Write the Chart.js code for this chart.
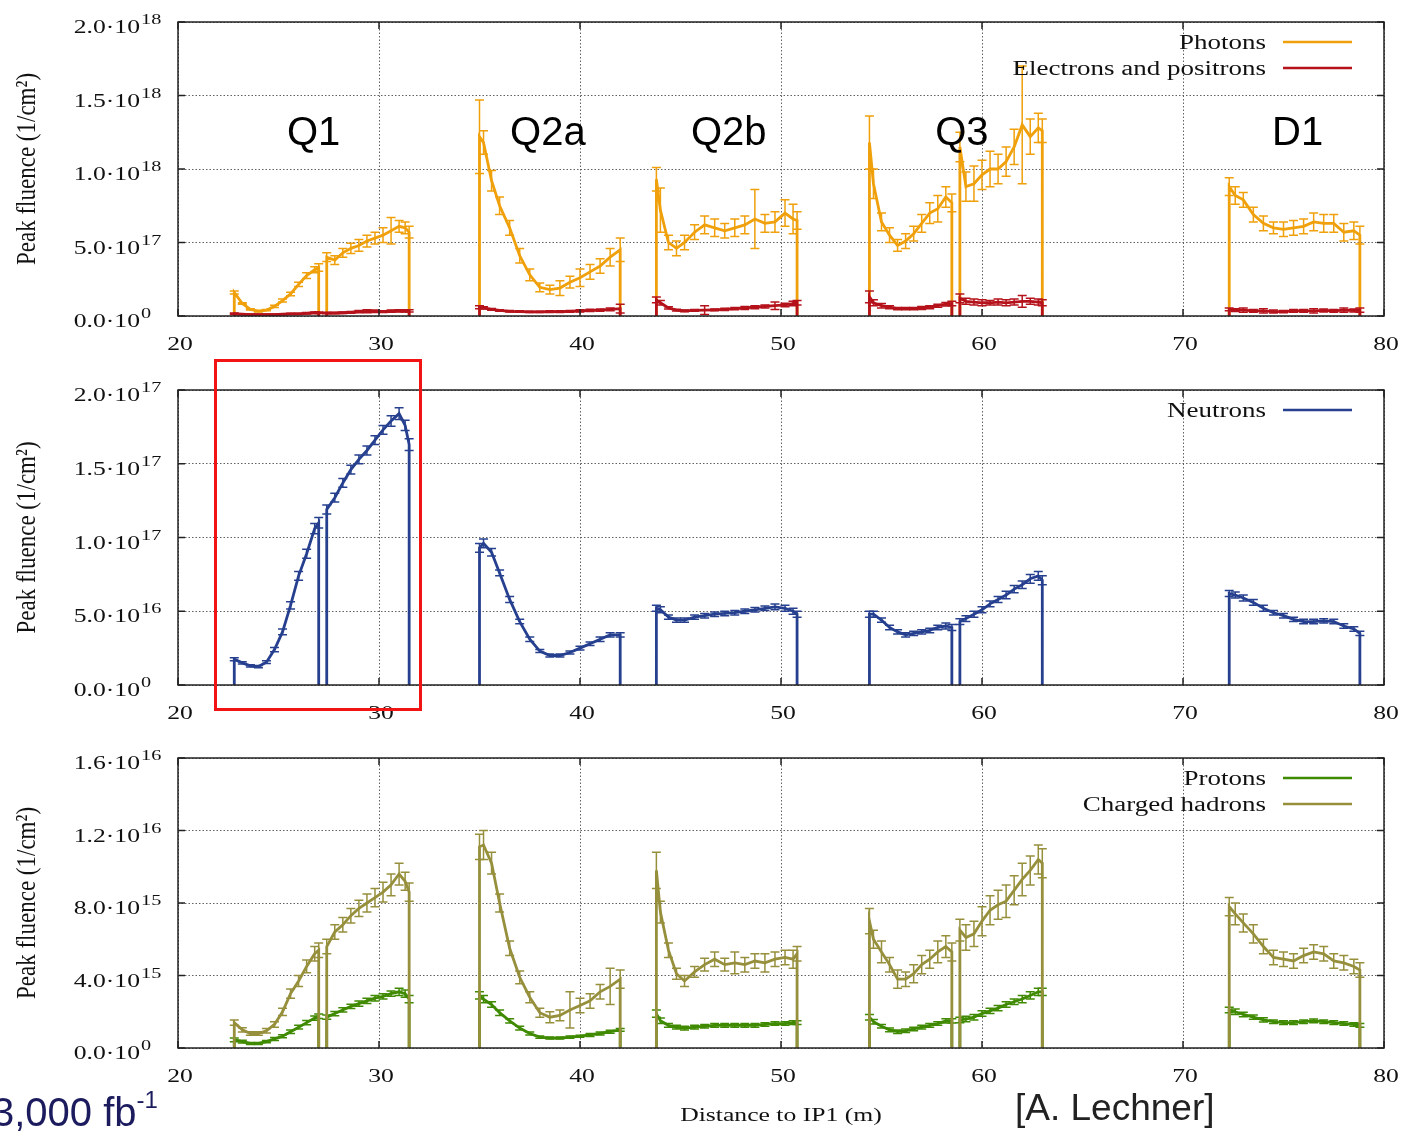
<!DOCTYPE html>
<html>
<head>
<meta charset="utf-8">
<script src="https://cdn.jsdelivr.net/npm/chart.js@4.4.0/dist/chart.umd.min.js"></script>
<style>
  body { margin: 0; background: #fff; }
  #wrap { position: relative; width: 1408px; height: 1131px; overflow: hidden; background: #fff; }
  #wrap canvas { position: absolute; left: 0; }
  .note { position: absolute; font-family: "Liberation Sans", Arial, sans-serif; white-space: nowrap; line-height: 1; }
  .note sup { font-size: 0.6em; position: relative; top: -0.75em; vertical-align: baseline; }
  #box { position: absolute; left: 214px; top: 359px; width: 208px; height: 352px; border: 3px solid #f21414; box-sizing: border-box; }
</style>
</head>
<body>
<div id="wrap">
  <canvas id="c1" width="1408" height="360" style="top:0"></canvas>
  <canvas id="c2" width="1408" height="370" style="top:360px"></canvas>
  <canvas id="c3" width="1408" height="401" style="top:730px"></canvas>
  <div id="box"></div>
  <div class="note" style="left:-8px; top:1092px; font-size:40px; color:#1b1b5e">3,000 fb<sup>-1</sup></div>
  <div class="note" style="left:1015px; top:1089px; font-size:37px; color:#222">[A. Lechner]</div>
</div>
<script>
// magnet segments along the beam line (m)
const segmentX = [
  [22.8, 23.2, 23.6, 24.0, 24.4, 24.8, 25.2, 25.6, 26.0, 26.4, 26.8, 27.0],
  [27.4, 27.8, 28.2, 28.6, 29.0, 29.4, 29.8, 30.2, 30.6, 31.0, 31.3, 31.5],
  [35.0, 35.2, 35.6, 36.0, 36.5, 37.0, 37.5, 38.0, 38.5, 39.0, 39.5, 40.0, 40.5, 41.0, 41.5, 42.0],
  [43.8, 44.0, 44.4, 44.8, 45.2, 45.7, 46.2, 46.7, 47.2, 47.7, 48.2, 48.7, 49.2, 49.7, 50.2, 50.6, 50.8],
  [54.4, 54.6, 55.0, 55.4, 55.8, 56.2, 56.6, 57.0, 57.4, 57.8, 58.2, 58.5],
  [58.9, 59.2, 59.6, 60.0, 60.4, 60.8, 61.2, 61.6, 62.0, 62.4, 62.8, 63.0],
  [72.3, 72.6, 73.0, 73.5, 74.0, 74.5, 75.0, 75.5, 76.0, 76.5, 77.0, 77.5, 78.0, 78.5, 78.8]
];

// photons, units of 1e17 /cm2
const photons = [
  [1.6, 0.85, 0.45, 0.33, 0.4, 0.65, 1.05, 1.5, 2.15, 2.75, 3.15, 3.3],
  [4.0, 3.8, 4.3, 4.6, 4.8, 5.1, 5.3, 5.5, 5.8, 6.1, 6.0, 5.7],
  [12.2, 11.8, 9.2, 7.5, 6.0, 4.1, 2.8, 1.95, 1.8, 1.9, 2.3, 2.6, 3.0, 3.4, 4.0, 4.5],
  [9.3, 7.2, 5.0, 4.6, 5.0, 5.7, 6.2, 6.0, 5.8, 6.0, 6.2, 6.6, 6.3, 6.4, 7.0, 6.6, 6.5],
  [11.8, 9.0, 6.4, 5.5, 4.8, 5.1, 5.6, 6.3, 7.0, 7.3, 8.1, 7.7],
  [11.5, 8.8, 9.0, 9.6, 10.0, 10.0, 10.5, 11.5, 13.0, 12.2, 12.8, 12.6],
  [8.8, 8.2, 7.9, 6.9, 6.3, 6.0, 5.9, 6.0, 6.1, 6.4, 6.3, 6.3, 5.7, 5.8, 5.5]
];
const photonsErr = [
  [0.1, 0.05, 0.05, 0.05, 0.05, 0.08, 0.1, 0.12, 0.15, 0.2, 0.2, 0.25],
  [0.3, 0.3, 0.3, 0.35, 0.4, 0.4, 0.4, 0.5, 0.9, 0.4, 0.4, 0.4],
  [2.5, 0.8, 0.7, 0.6, 0.5, 0.5, 0.4, 0.3, 0.3, 0.5, 0.4, 0.6, 0.5, 0.5, 0.6, 0.8],
  [0.8, 1.5, 0.5, 0.5, 0.5, 0.5, 0.6, 0.6, 0.5, 0.6, 0.6, 2.0, 0.6, 0.7, 0.9, 1.0, 0.6],
  [1.8, 1.0, 0.6, 0.5, 0.4, 0.5, 0.5, 0.6, 0.7, 0.9, 0.7, 0.6],
  [1.0, 1.0, 1.2, 1.0, 1.2, 1.0, 1.0, 1.2, 4.0, 1.2, 1.0, 0.8],
  [0.6, 0.6, 0.5, 0.5, 0.5, 0.4, 0.5, 0.5, 0.5, 0.6, 0.6, 0.6, 0.6, 0.6, 0.6]
];

// electrons and positrons, 1e17 /cm2
const electrons = [
  [0.15, 0.12, 0.1, 0.1, 0.1, 0.1, 0.12, 0.14, 0.15, 0.18, 0.22, 0.22],
  [0.2, 0.2, 0.22, 0.25, 0.3, 0.32, 0.32, 0.3, 0.33, 0.35, 0.35, 0.35],
  [0.6, 0.55, 0.45, 0.38, 0.32, 0.3, 0.28, 0.28, 0.3, 0.3, 0.32, 0.35, 0.38, 0.4, 0.45, 0.5],
  [1.1, 0.9, 0.55, 0.4, 0.35, 0.38, 0.4, 0.42, 0.45, 0.5, 0.55, 0.6, 0.65, 0.7, 0.75, 0.85, 0.9],
  [1.3, 0.9, 0.7, 0.6, 0.5, 0.5, 0.5, 0.55, 0.6, 0.7, 0.8, 0.85],
  [1.2, 1.0, 0.95, 0.9, 0.9, 0.95, 0.9, 0.95, 1.0, 1.0, 0.95, 0.9],
  [0.45, 0.4, 0.4, 0.35, 0.35, 0.3, 0.3, 0.35, 0.35, 0.35, 0.38, 0.35, 0.4, 0.38, 0.4]
];
const electronsErr = [
  [0.05, 0.03, 0.03, 0.03, 0.03, 0.03, 0.03, 0.04, 0.04, 0.05, 0.05, 0.05],
  [0.05, 0.05, 0.05, 0.06, 0.08, 0.1, 0.08, 0.06, 0.08, 0.08, 0.08, 0.08],
  [0.1, 0.08, 0.06, 0.05, 0.05, 0.05, 0.05, 0.05, 0.06, 0.06, 0.06, 0.08, 0.08, 0.08, 0.1, 0.3],
  [0.2, 0.15, 0.08, 0.06, 0.06, 0.06, 0.3, 0.06, 0.08, 0.08, 0.1, 0.1, 0.1, 0.25, 0.12, 0.15, 0.15],
  [0.4, 0.2, 0.15, 0.1, 0.08, 0.08, 0.08, 0.1, 0.1, 0.1, 0.12, 0.15],
  [0.3, 0.2, 0.2, 0.2, 0.15, 0.2, 0.2, 0.2, 0.4, 0.2, 0.2, 0.2],
  [0.1, 0.1, 0.15, 0.1, 0.15, 0.1, 0.08, 0.1, 0.1, 0.15, 0.1, 0.1, 0.15, 0.1, 0.15]
];

// neutrons, 1e16 /cm2
const neutrons = [
  [1.75, 1.5, 1.3, 1.25, 1.55, 2.4, 3.6, 5.4, 7.4, 8.9, 10.6, 11.0],
  [11.9, 12.7, 13.7, 14.6, 15.3, 15.9, 16.6, 17.3, 17.9, 18.4, 17.6, 16.3],
  [9.3, 9.6, 9.0, 7.6, 5.8, 4.3, 3.1, 2.3, 2.0, 2.0, 2.2, 2.5, 2.8, 3.1, 3.4, 3.4],
  [5.2, 5.1, 4.6, 4.4, 4.4, 4.6, 4.7, 4.8, 4.85, 4.9, 5.0, 5.1, 5.2, 5.3, 5.2, 5.0, 4.8],
  [4.8, 4.8, 4.4, 3.9, 3.6, 3.4, 3.5, 3.6, 3.7, 3.9, 4.0, 3.9],
  [4.3, 4.5, 4.8, 5.1, 5.5, 5.8, 6.1, 6.5, 6.8, 7.2, 7.4, 7.1],
  [6.2, 6.1, 5.9, 5.6, 5.2, 4.9, 4.7, 4.45, 4.3, 4.3, 4.35, 4.3, 4.0, 3.8, 3.5]
];
const neutronsErr = [
  [0.1, 0.08, 0.08, 0.08, 0.1, 0.15, 0.2, 0.25, 0.3, 0.3, 0.35, 0.35],
  [0.3, 0.3, 0.3, 0.3, 0.3, 0.3, 0.3, 0.3, 0.35, 0.4, 0.35, 0.4],
  [0.3, 0.3, 0.25, 0.2, 0.2, 0.15, 0.15, 0.1, 0.1, 0.1, 0.1, 0.12, 0.12, 0.15, 0.15, 0.15],
  [0.2, 0.2, 0.15, 0.15, 0.15, 0.15, 0.15, 0.15, 0.15, 0.15, 0.15, 0.15, 0.15, 0.2, 0.2, 0.2, 0.2],
  [0.2, 0.2, 0.15, 0.15, 0.15, 0.15, 0.15, 0.15, 0.15, 0.15, 0.2, 0.2],
  [0.2, 0.2, 0.2, 0.2, 0.2, 0.2, 0.25, 0.25, 0.25, 0.3, 0.3, 0.3],
  [0.2, 0.2, 0.2, 0.2, 0.2, 0.15, 0.15, 0.15, 0.15, 0.15, 0.15, 0.15, 0.15, 0.15, 0.15]
];

// protons, 1e15 /cm2
const protons = [
  [0.45, 0.35, 0.25, 0.25, 0.35, 0.5, 0.65, 0.9, 1.15, 1.4, 1.65, 1.75],
  [1.7, 1.9, 2.1, 2.3, 2.45, 2.6, 2.75, 2.85, 3.0, 3.1, 3.0, 2.7],
  [2.9, 2.7, 2.4, 1.95, 1.5, 1.1, 0.8, 0.6, 0.55, 0.55, 0.6, 0.65, 0.72, 0.8, 0.9, 1.0],
  [1.9, 1.5, 1.25, 1.15, 1.1, 1.15, 1.2, 1.25, 1.25, 1.25, 1.25, 1.25, 1.3, 1.35, 1.35, 1.4, 1.4],
  [1.7, 1.45, 1.2, 1.0, 0.9, 0.95, 1.05, 1.15, 1.25, 1.35, 1.5, 1.5],
  [1.55, 1.6, 1.7, 1.9, 2.05, 2.2, 2.4, 2.55, 2.7, 2.9, 3.1, 3.1],
  [2.1, 2.0, 1.85, 1.7, 1.55, 1.45, 1.4, 1.4, 1.45, 1.5, 1.45, 1.4, 1.35, 1.3, 1.25]
];
const protonsErr = [
  [0.1, 0.08, 0.06, 0.06, 0.06, 0.08, 0.08, 0.1, 0.1, 0.12, 0.12, 0.12],
  [0.12, 0.12, 0.12, 0.12, 0.15, 0.15, 0.15, 0.15, 0.15, 0.2, 0.2, 0.2],
  [0.2, 0.2, 0.15, 0.15, 0.12, 0.1, 0.08, 0.06, 0.06, 0.06, 0.06, 0.06, 0.08, 0.08, 0.08, 0.08],
  [0.2, 0.15, 0.1, 0.1, 0.1, 0.1, 0.1, 0.1, 0.1, 0.1, 0.1, 0.1, 0.1, 0.1, 0.1, 0.1, 0.1],
  [0.15, 0.12, 0.1, 0.1, 0.1, 0.1, 0.1, 0.1, 0.1, 0.1, 0.12, 0.12],
  [0.15, 0.15, 0.15, 0.15, 0.15, 0.15, 0.15, 0.15, 0.2, 0.2, 0.2, 0.2],
  [0.15, 0.15, 0.12, 0.12, 0.12, 0.1, 0.1, 0.1, 0.1, 0.1, 0.1, 0.1, 0.1, 0.1, 0.1]
];

// charged hadrons, 1e15 /cm2
const hadrons = [
  [1.4, 1.0, 0.8, 0.8, 0.95, 1.3, 2.0, 3.0, 3.7, 4.5, 5.2, 5.4],
  [5.6, 6.4, 6.8, 7.3, 7.7, 8.0, 8.3, 8.6, 9.0, 9.6, 9.2, 8.6],
  [11.1, 11.2, 10.2, 8.0, 5.5, 3.9, 2.8, 1.95, 1.7, 1.8, 2.1, 2.35, 2.6, 3.1, 3.4, 3.8],
  [9.8, 7.5, 5.4, 4.1, 3.7, 4.2, 4.6, 4.9, 4.6, 4.7, 4.6, 4.8, 4.7, 4.9, 5.0, 4.9, 5.2],
  [7.0, 6.0, 5.3, 4.6, 3.8, 3.8, 4.1, 4.6, 4.9, 5.3, 5.6, 5.3],
  [6.5, 6.1, 6.3, 7.0, 7.6, 7.9, 8.1, 8.7, 9.3, 9.8, 10.4, 10.2],
  [7.8, 7.4, 6.9, 6.3, 5.6, 5.0, 4.9, 4.8, 5.1, 5.3, 5.2, 4.8, 4.7, 4.5, 4.3]
];
const hadronsErr = [
  [0.15, 0.12, 0.1, 0.1, 0.12, 0.15, 0.2, 0.25, 0.3, 0.35, 0.4, 0.4],
  [0.4, 0.4, 0.4, 0.4, 0.45, 0.5, 0.5, 0.55, 0.6, 0.6, 0.5, 0.5],
  [0.7, 0.8, 0.6, 0.5, 0.4, 0.35, 0.3, 0.25, 0.3, 0.3, 1.0, 0.4, 0.4, 0.4, 1.0, 0.5],
  [1.0, 0.6, 0.4, 0.3, 0.3, 0.3, 0.35, 0.4, 0.35, 0.6, 0.4, 0.4, 0.5, 0.4, 0.4, 0.5, 0.4],
  [0.7, 0.5, 0.6, 0.4, 0.5, 0.4, 0.5, 0.5, 0.5, 0.6, 0.6, 0.5],
  [0.6, 0.7, 0.7, 0.8, 0.8, 0.8, 0.9, 0.8, 0.9, 0.8, 0.8, 0.8],
  [0.5, 0.6, 0.5, 0.5, 0.4, 0.4, 0.4, 0.4, 0.4, 0.4, 0.4, 0.4, 0.4, 0.4, 0.4]
];

const xTicks = [20, 30, 40, 50, 60, 70, 80];
const p1TickLabels = [['0.0', '0'], ['5.0', '17'], ['1.0', '18'], ['1.5', '18'], ['2.0', '18']];
const p2TickLabels = [['0.0', '0'], ['5.0', '16'], ['1.0', '17'], ['1.5', '17'], ['2.0', '17']];
const p3TickLabels = [['0.0', '0'], ['4.0', '15'], ['8.0', '15'], ['1.2', '16'], ['1.6', '16']];

const magnetNames = ['Q1', 'Q2a', 'Q2b', 'Q3', 'D1'];
const magnetCenters = [26.75, 38.4, 47.4, 59.0, 75.7];
const magnetLabelY = 12.4;

const SERIF = '"Liberation Serif", "Times New Roman", serif';
const SX = 1.35; // the gnuplot text is stretched sideways in the original

function buildSeries(values, errors) {
  const pts = [], errs = [];
  segmentX.forEach((xs, s) => {
    pts.push({ x: xs[0], y: 0 }); errs.push(null);
    xs.forEach((x, i) => { pts.push({ x: x, y: values[s][i] }); errs.push(errors[s][i]); });
    pts.push({ x: xs[xs.length - 1], y: 0 }); errs.push(null);
    pts.push({ x: xs[xs.length - 1], y: null }); errs.push(null);
  });
  return { pts, errs };
}

function dataset(label, color, values, errors, order) {
  const s = buildSeries(values, errors);
  return { label, data: s.pts, errors: s.errs, borderColor: color, backgroundColor: color,
           borderWidth: 2.8, pointRadius: 0, tension: 0, order, spanGaps: false };
}

function stretchedText(ctx, text, x, y, font, align, sx) {
  ctx.save();
  ctx.font = font;
  ctx.textAlign = align;
  ctx.textBaseline = 'alphabetic';
  ctx.translate(x, y);
  ctx.scale(sx, 1);
  ctx.fillText(text, 0, 0);
  ctx.restore();
}

function makeDeco(cfg) {
  return {
    id: 'deco',
    afterDatasetDraw(chart, args) {
      const ds = chart.data.datasets[args.index];
      const { ctx, scales: { x, y } } = chart;
      ctx.save();
      ctx.strokeStyle = ds.borderColor;
      ctx.lineWidth = 1.5;
      ds.data.forEach((p, i) => {
        const e = ds.errors[i];
        if (e == null || p.y == null) return;
        const px = x.getPixelForValue(p.x);
        const y1 = y.getPixelForValue(p.y - e), y2 = y.getPixelForValue(p.y + e);
        ctx.beginPath();
        ctx.moveTo(px, y1); ctx.lineTo(px, y2);
        ctx.moveTo(px - 4.5, y1); ctx.lineTo(px + 4.5, y1);
        ctx.moveTo(px - 4.5, y2); ctx.lineTo(px + 4.5, y2);
        ctx.stroke();
      });
      ctx.restore();
    },
    afterDraw(chart) {
      const { ctx, chartArea: a, scales: { x, y } } = chart;
      ctx.save();
      // frame and inward ticks
      ctx.strokeStyle = '#222';
      ctx.lineWidth = 1.5;
      ctx.strokeRect(a.left, a.top, a.right - a.left, a.bottom - a.top);
      ctx.beginPath();
      xTicks.forEach(v => {
        const px = x.getPixelForValue(v);
        ctx.moveTo(px, a.bottom); ctx.lineTo(px, a.bottom - 7);
        ctx.moveTo(px, a.top); ctx.lineTo(px, a.top + 7);
      });
      y.ticks.forEach(t => {
        const py = y.getPixelForValue(t.value);
        ctx.moveTo(a.left, py); ctx.lineTo(a.left + 7, py);
        ctx.moveTo(a.right, py); ctx.lineTo(a.right - 7, py);
      });
      ctx.stroke();

      ctx.fillStyle = '#111';
      // y tick labels with superscript exponents
      y.ticks.forEach((t, i) => {
        const py = y.getPixelForValue(t.value);
        const lab = cfg.yLabels[i];
        stretchedText(ctx, lab[0] + '\u00b710', 140, py + 11, '19px ' + SERIF, 'right', SX);
        stretchedText(ctx, lab[1], 141, py + 2, '15px ' + SERIF, 'left', SX);
      });
      // x tick labels
      xTicks.forEach(v => {
        stretchedText(ctx, String(v), x.getPixelForValue(v) + 2, a.bottom + 34, '19px ' + SERIF, 'center', SX);
      });
      // y axis title
      ctx.save();
      ctx.translate(28, (a.top + a.bottom) / 2);
      ctx.rotate(-Math.PI / 2);
      ctx.scale(1, 1.2);
      ctx.font = '23px ' + SERIF;
      ctx.textAlign = 'center';
      ctx.textBaseline = 'middle';
      ctx.fillText('Peak fluence (1/cm\u00b2)', 0, 0);
      ctx.restore();
      // legend: text right-aligned, sample line on the right
      chart.data.datasets.forEach((ds, i) => {
        const cy = a.top + 20 + i * 26;
        stretchedText(ctx, ds.label, a.right - 118, cy + 7, '20px ' + SERIF, 'right', SX);
        ctx.strokeStyle = ds.borderColor;
        ctx.lineWidth = 2.6;
        ctx.beginPath();
        ctx.moveTo(a.right - 101, cy); ctx.lineTo(a.right - 32, cy);
        ctx.stroke();
      });
      // magnet names
      if (cfg.magnets) {
        ctx.font = '40px "Liberation Sans", Arial, sans-serif';
        ctx.textAlign = 'center';
        ctx.textBaseline = 'middle';
        ctx.fillStyle = '#000';
        magnetNames.forEach((n, i) => {
          ctx.fillText(n, x.getPixelForValue(magnetCenters[i]), y.getPixelForValue(magnetLabelY));
        });
      }
      if (cfg.xTitle) {
        ctx.fillStyle = '#111';
        stretchedText(ctx, 'Distance to IP1 (m)', (a.left + a.right) / 2, a.bottom + 73, '19px ' + SERIF, 'center', SX);
      }
      ctx.restore();
    }
  };
}

function makeChart(id, canvasTop, canvasHeight, areaTop, areaBottom, yMax, yStep, datasets, deco) {
  const gridOpts = { color: 'rgba(70,70,70,0.85)', lineWidth: 1, drawTicks: false };
  const borderOpts = { display: false, dash: [1.5, 2] };
  return new Chart(document.getElementById(id), {
    type: 'line',
    data: { datasets },
    options: {
      responsive: false,
      animation: false,
      events: [],
      layout: { padding: { top: areaTop - canvasTop, right: 24, left: 0, bottom: 0 } },
      plugins: { legend: { display: false }, tooltip: { enabled: false } },
      scales: {
        x: {
          type: 'linear', min: 20, max: 80,
          ticks: { display: false, stepSize: 10 },
          grid: gridOpts, border: borderOpts,
          afterFit: s => { s.height = canvasTop + canvasHeight - areaBottom; }
        },
        y: {
          type: 'linear', min: 0, max: yMax,
          ticks: { display: false, stepSize: yStep },
          grid: gridOpts, border: borderOpts,
          afterFit: s => { s.width = 178; }
        }
      }
    },
    plugins: [deco]
  });
}

const photonColor = '#efa00b';
const electronColor = '#b5121b';
const neutronColor = '#26408f';
const protonColor = '#3f8a00';
const hadronColor = '#968f3c';

makeChart('c1', 0, 360, 22, 316, 20, 5, [
  dataset('Photons', photonColor, photons, photonsErr, 1),
  dataset('Electrons and positrons', electronColor, electrons, electronsErr, 0)
], makeDeco({ yLabels: p1TickLabels, magnets: true }));

makeChart('c2', 360, 370, 390, 685, 20, 5, [
  dataset('Neutrons', neutronColor, neutrons, neutronsErr, 0)
], makeDeco({ yLabels: p2TickLabels }));

makeChart('c3', 730, 401, 758, 1048, 16, 4, [
  dataset('Protons', protonColor, protons, protonsErr, 1),
  dataset('Charged hadrons', hadronColor, hadrons, hadronsErr, 0)
], makeDeco({ yLabels: p3TickLabels, xTitle: true }));
</script>
</body>
</html>
